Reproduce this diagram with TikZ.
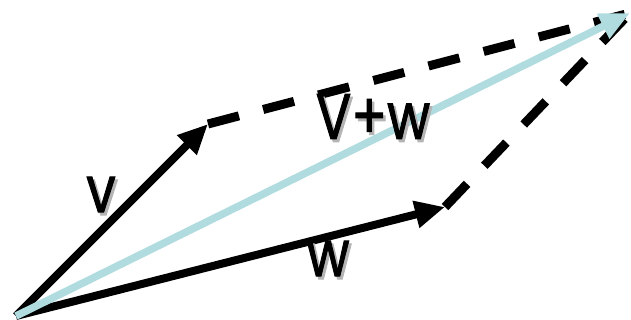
\documentclass[tikz,border=0pt]{standalone}
\usepackage{fontspec}
\setmainfont{Poppins}
\newfontfamily\lblfont{Poppins}[FakeBold=1.6]
\usetikzlibrary{arrows.meta}
\definecolor{sumblue}{HTML}{B0DCE0}
\definecolor{shadowgray}{HTML}{B4B4B4}
\newcommand{\shtext}[1]{\makebox[0pt][l]{\hspace{3pt}\raisebox{-3pt}{\color{shadowgray}#1}}#1}
\tikzset{
  vec/.style={line width=8pt, -{Triangle[length=30pt,width=26pt]}},
  dashline/.style={line width=9pt, dash pattern=on 32pt off 25pt},
  sumvec/.style={line width=7.5pt, draw=sumblue, -{Triangle[length=30pt,width=26pt,fill=sumblue]}},
  lbl/.style={font=\lblfont\fontsize{64}{68}\selectfont, inner sep=0pt, xscale=0.82},
}
\begin{document}
\begin{tikzpicture}[x=1pt,y=-1pt]
\useasboundingbox (0,0) rectangle (631,320);
\coordinate (O) at (16,316);
\coordinate (V) at (208,124);
\coordinate (W) at (445,207);
\coordinate (S) at (630,13);
\draw[vec] (O) -- (V);
\draw[vec] (O) -- (W);
\draw[dashline] (V) -- (S);
\draw[dashline] (W) -- (S);
\draw[sumvec] (O) -- (S);
\node[lbl] (v) at (101,196) {\shtext{v}};
\node[lbl] (w) at (328,260) {\shtext{w}};
\node[lbl] (s) at (373,118) {\shtext{V+w}};
\end{tikzpicture}
\end{document}
